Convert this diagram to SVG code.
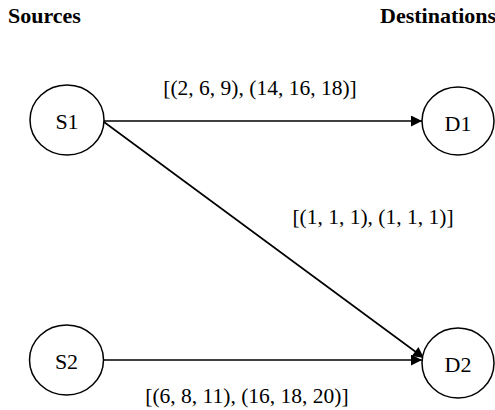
<svg xmlns="http://www.w3.org/2000/svg" width="495" height="410" viewBox="0 0 495 410">
<style>
text{font-family:"Liberation Serif","Times New Roman",serif;fill:#000}
.h{font-size:22px;font-weight:bold}
.n{font-size:22px;text-anchor:middle;dominant-baseline:central}
.l{font-size:21.5px;text-anchor:middle}
ellipse{fill:#fff;stroke:#000;stroke-width:1.5}
.c line{stroke:#000;stroke-width:1.6}
</style>
<defs>
<marker id="arr" viewBox="0 0 10 10" refX="10" refY="5" markerWidth="14" markerHeight="11" markerUnits="userSpaceOnUse" orient="auto">
<path d="M0,0 L10,5 L0,10 z" fill="#000"/>
</marker>
</defs>
<rect width="495" height="410" fill="#fff"/>
<text class="h" x="8" y="23">Sources</text>
<text class="h" x="380" y="23">Destinations</text>
<g class="c">
<line x1="104" y1="121" x2="422" y2="121" marker-end="url(#arr)"/>
<line x1="104" y1="122" x2="424" y2="358" marker-end="url(#arr)"/>
<line x1="104" y1="360" x2="422" y2="360" marker-end="url(#arr)"/>
<text class="l" x="260" y="95">[(2, 6, 9), (14, 16, 18)]</text>
<text class="l" x="373" y="224">[(1, 1, 1), (1, 1, 1)]</text>
<text class="l" x="247" y="403">[(6, 8, 11), (16, 18, 20)]</text>
</g>
<g id="S1"><ellipse cx="67" cy="120" rx="37" ry="35"/><text class="n" x="67" y="121">S1</text></g>
<g id="S2"><ellipse cx="66.5" cy="360" rx="37" ry="35"/><text class="n" x="66.5" y="361">S2</text></g>
<g id="D1"><ellipse cx="458" cy="121" rx="36" ry="34"/><text class="n" x="458" y="123">D1</text></g>
<g id="D2"><ellipse cx="458" cy="363" rx="36" ry="35"/><text class="n" x="458" y="364">D2</text></g>
</svg>
